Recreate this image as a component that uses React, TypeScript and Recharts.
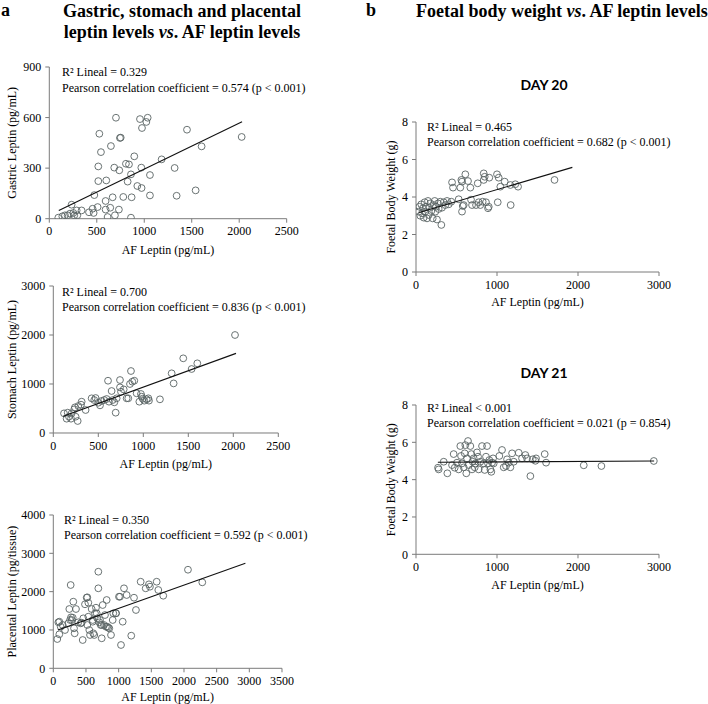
import React from 'react';
import { ScatterChart, Scatter, XAxis, YAxis } from 'recharts';

// AF leptin (pg/mL) vs tissue leptin
const gastricPoints: [number, number][] = [
  [95, 6], [137, 14], [165, 20], [193, 20], [218, 30], [235, 83], [253, 34], [263, 20], [288, 49], [295, 20],
  [340, 49], [418, 38], [456, 59], [467, 34], [474, 140], [509, 69], [516, 223], [516, 310], [527, 504], [544, 395],
  [593, 105], [600, 227], [593, 54], [614, 10], [642, 65], [667, 127], [649, 431], [691, 20], [684, 303], [702, 599],
  [733, 54], [737, 287], [744, 479], [752, 481], [779, 129], [807, 326], [825, 220], [839, 322], [860, 263], [860, 6],
  [867, 127], [895, 370], [927, 194], [955, 591], [972, 182], [976, 538], [969, 303], [1022, 574], [1036, 599],
  [1060, 259], [1060, 138], [1183, 352], [1320, 301], [1341, 136], [1450, 528], [1541, 168], [1604, 429], [2026, 485],
];
const gastricFit: [number, number][] = [[100, 48], [2030, 575]];

const stomachPoints: [number, number][] = [
  [119, 401], [148, 292], [160, 415], [174, 333], [197, 292], [204, 401], [233, 483], [241, 524], [248, 333], [271, 245],
  [278, 551], [308, 578], [315, 639], [359, 469], [426, 708], [455, 673], [470, 714], [500, 618], [519, 564], [537, 653],
  [566, 673], [593, 694], [608, 1067], [619, 639], [648, 857], [660, 673], [678, 626], [693, 415], [704, 708], [741, 1081],
  [741, 931], [752, 842], [782, 890], [815, 708], [833, 708], [852, 1000], [863, 1265], [878, 1047], [900, 1067], [926, 810],
  [956, 639], [974, 796], [982, 741], [993, 700], [1011, 660], [1037, 687], [1056, 708], [1063, 660], [1185, 687],
  [1315, 1218], [1337, 1012], [1444, 1524], [1537, 1306], [1600, 1422], [2019, 2000],
];
const stomachFit: [number, number][] = [[110, 340], [2030, 1625]];

const placentalPoints: [number, number][] = [
  [61, 764], [77, 1200], [92, 887], [113, 1085], [143, 1130], [179, 999], [230, 1174], [245, 1547], [266, 2173], [282, 1260],
  [297, 1320], [306, 1738], [327, 913], [347, 1547], [383, 1200], [419, 1174], [450, 738], [459, 1304], [485, 1670], [511, 1842],
  [520, 1130], [536, 1346], [551, 999], [562, 869], [587, 1547], [603, 1216], [612, 913], [627, 869], [653, 1581], [664, 1435],
  [673, 1304], [689, 2087], [689, 2520], [704, 1200], [725, 1130], [741, 783], [756, 1651], [776, 1130], [791, 1390], [817, 1782],
  [826, 1085], [842, 1059], [857, 1043], [883, 869], [918, 1435], [959, 1435], [1005, 1868], [1020, 1868], [1036, 608], [1062, 1216],
  [1082, 2087], [1123, 1912], [1193, 851], [1235, 1842], [1265, 1521], [1337, 2259], [1414, 2087], [1464, 2191], [1479, 2129],
  [1582, 2259], [1607, 2043], [1683, 1894], [2061, 2572], [2280, 2243],
  [92, 1216], [256, 1260], [271, 1330], [317, 1043], [435, 1190], [520, 1852], [536, 1711], [603, 1260], [638, 1435],
  [715, 1260], [741, 1130], [806, 1085], [909, 1260], [959, 1435],
];
const placentalFit: [number, number][] = [[70, 1000], [2940, 2740]];

// AF leptin (pg/mL) vs foetal body weight (g)
const day20Points: [number, number][] = [
  [33, 3.22], [41, 3.48], [53, 3.0], [65, 3.61], [74, 3.13], [86, 3.4], [95, 2.9], [107, 3.72], [115, 3.22], [123, 3.48],
  [136, 2.86], [148, 3.79], [157, 3.04], [164, 3.43], [177, 3.66], [189, 3.25], [206, 2.86], [218, 3.57], [231, 3.79], [239, 3.22],
  [247, 3.48], [259, 2.8], [272, 3.66], [280, 3.36], [300, 3.75], [313, 2.51], [321, 3.43], [342, 3.72], [362, 3.57], [383, 3.79],
  [404, 3.61], [436, 3.75], [445, 4.78], [457, 4.5], [527, 3.88], [547, 4.5], [560, 4.91], [568, 4.82], [568, 3.22], [577, 3.52],
  [589, 3.57], [609, 5.21], [642, 4.85], [671, 4.5], [679, 3.86], [692, 3.57], [741, 3.57], [762, 4.73], [774, 3.72], [794, 3.57],
  [823, 3.75], [836, 5.26], [836, 4.91], [848, 5.08], [864, 3.72], [889, 3.4], [898, 3.48], [905, 5.03], [1000, 5.21], [1009, 3.72],
  [1021, 5.03], [1041, 4.55], [1095, 4.82], [1165, 4.64], [1169, 3.57], [1226, 4.68], [1260, 4.55], [1710, 4.91],
];
const day20Fit: [number, number][] = [[40, 3.17], [1930, 5.58]];

const day21Points: [number, number][] = [
  [272, 4.64], [280, 4.55], [342, 4.96], [387, 4.34], [445, 4.78], [465, 5.37], [478, 4.64], [506, 4.91], [527, 4.55], [547, 5.8],
  [556, 5.27], [568, 4.87], [589, 4.66], [601, 5.41], [609, 5.85], [621, 4.34], [630, 5.14], [642, 6.07], [651, 4.78], [671, 5.8],
  [683, 5.37], [692, 4.55], [700, 4.96], [712, 5.14], [725, 4.66], [733, 4.87], [753, 5.46], [766, 5.23], [774, 4.55], [794, 4.96],
  [815, 5.8], [836, 4.87], [848, 4.52], [864, 5.23], [877, 5.8], [889, 4.87], [905, 5.05], [918, 4.55], [930, 4.42], [939, 4.91],
  [951, 5.14], [959, 4.87], [1029, 5.27], [1062, 5.59], [1083, 4.66], [1111, 4.73], [1124, 5.09], [1145, 4.91], [1165, 4.66],
  [1186, 5.41], [1207, 4.96], [1268, 5.44], [1309, 5.14], [1350, 5.32], [1371, 5.14], [1412, 4.19], [1441, 5.09], [1474, 5.01],
  [1482, 5.14], [1589, 5.37], [1606, 4.91], [2071, 4.77], [2289, 4.73], [2936, 5.0],
];
const day21Fit: [number, number][] = [[270, 4.93], [2940, 5.0]];

const ticks2500 = [0, 500, 1000, 1500, 2000, 2500];
const ticks3500 = [0, 500, 1000, 1500, 2000, 2500, 3000, 3500];
const ticks3000 = [0, 1000, 2000, 3000];
const gastricTicks = [0, 300, 600, 900];
const stomachTicks = [0, 1000, 2000, 3000];
const placentalTicks = [0, 1000, 2000, 3000, 4000];
const weightTicks = [0, 2, 4, 6, 8];

const SERIF = '"Liberation Serif", "Times New Roman", serif';
const AXIS = '#7a7a7a';

const toXY = (pts: [number, number][]) => pts.map(([x, y]) => ({ x, y }));

const ring = (props: any) => (
  <circle cx={props.cx} cy={props.cy} r={3.4} fill="none" stroke="#5a6464" strokeWidth={0.9} />
);

type PanelProps = {
  chartLeft: number;
  plotLeft: number;
  plotTop: number;
  plotW: number;
  plotH: number;
  xMax: number;
  xTicks: number[];
  yMax: number;
  yTicks: number[];
  points: [number, number][];
  fit: [number, number][];
  yLabel: string;
  yLabelX: number;
  xH: number;
};

function Panel(p: PanelProps) {
  const yW = p.plotLeft - p.chartLeft;
  const top = 10;
  const right = 20;
  const pad = 5; // room under the axis title for descenders
  return (
    <div style={{ position: 'absolute', left: p.chartLeft, top: p.plotTop - top }}>
      <ScatterChart
        width={yW + p.plotW + right}
        height={top + p.plotH + p.xH + pad}
        margin={{ top, right, left: 0, bottom: 0 }}
      >
        <XAxis
          type="number"
          dataKey="x"
          domain={[0, p.xMax]}
          ticks={p.xTicks}
          allowDataOverflow
          height={p.xH + pad}
          stroke={AXIS}
          tickSize={4}
          tickMargin={4}
          tick={{ fontSize: 12, fill: '#000', fontFamily: SERIF }}
          label={{
            value: 'AF Leptin (pg/mL)',
            position: 'insideBottom',
            offset: pad,
            style: { fontSize: 12, fill: '#000', fontFamily: SERIF },
          }}
        />
        <YAxis
          type="number"
          dataKey="y"
          domain={[0, p.yMax]}
          ticks={p.yTicks}
          allowDataOverflow
          width={yW}
          stroke={AXIS}
          tickSize={4}
          tickMargin={4}
          tick={{ fontSize: 12, fill: '#000', fontFamily: SERIF }}
          label={{
            value: p.yLabel,
            angle: -90,
            position: 'insideLeft',
            offset: p.yLabelX - p.chartLeft,
            style: { fontSize: 12, fill: '#000', fontFamily: SERIF, textAnchor: 'middle' },
          }}
        />
        <Scatter data={toXY(p.points)} shape={ring} isAnimationActive={false} />
        <Scatter
          data={toXY(p.fit)}
          line={{ stroke: '#111', strokeWidth: 1.1 }}
          shape={() => <g />}
          isAnimationActive={false}
        />
      </ScatterChart>
    </div>
  );
}

export default function App() {
  const t = { fontFamily: SERIF, fontSize: 12, fill: '#000' };
  const h = { fontFamily: SERIF, fontSize: 18, fontWeight: 700, fill: '#000' };
  return (
    <div style={{ position: 'absolute', left: 0, top: 0, width: 708, height: 704, background: '#fff', overflow: 'hidden' }}>
      <Panel chartLeft={0} plotLeft={49.3} plotTop={66.7} plotW={237.4} plotH={151.7} xMax={2500} xTicks={ticks2500}
        yMax={900} yTicks={gastricTicks} points={gastricPoints} fit={gastricFit} yLabel="Gastric Leptin (pg/mL)" yLabelX={12} xH={35} />
      <Panel chartLeft={0} plotLeft={53.3} plotTop={285.7} plotW={225} plotH={147} xMax={2500} xTicks={ticks2500}
        yMax={3000} yTicks={stomachTicks} points={stomachPoints} fit={stomachFit} yLabel="Stomach Leptin (pg/mL)" yLabelX={12} xH={35} />
      <Panel chartLeft={0} plotLeft={53.3} plotTop={515} plotW={228.7} plotH={153.3} xMax={3500} xTicks={ticks3500}
        yMax={4000} yTicks={placentalTicks} points={placentalPoints} fit={placentalFit} yLabel="Placental Leptin (pg/tissue)" yLabelX={12} xH={33} />
      <Panel chartLeft={376} plotLeft={416} plotTop={122} plotW={243} plotH={150} xMax={3000} xTicks={ticks3000}
        yMax={8} yTicks={weightTicks} points={day20Points} fit={day20Fit} yLabel="Foetal Body Weight (g)" yLabelX={391} xH={34} />
      <Panel chartLeft={376} plotLeft={416} plotTop={405} plotW={243} plotH={149.3} xMax={3000} xTicks={ticks3000}
        yMax={8} yTicks={weightTicks} points={day21Points} fit={day21Fit} yLabel="Foetal Body Weight (g)" yLabelX={391} xH={35} />

      <svg width={708} height={704} style={{ position: 'absolute', left: 0, top: 0, pointerEvents: 'none' }}>
        <text x={1} y={16} {...h}>a</text>
        <text x={182} y={17} textAnchor="middle" {...h}>Gastric, stomach and placental</text>
        <text x={182} y={38} textAnchor="middle" {...h}>
          leptin levels <tspan fontStyle="italic">vs</tspan>. AF leptin levels
        </text>
        <text x={366} y={16} {...h}>b</text>
        <text x={416} y={17} {...h}>
          Foetal body weight <tspan fontStyle="italic">vs</tspan>. AF leptin levels
        </text>
        <text x={544} y={90} textAnchor="middle" fontFamily="Lato, 'Liberation Sans', sans-serif" fontWeight={700} fontSize={14}>DAY 20</text>
        <text x={544} y={378} textAnchor="middle" fontFamily="Lato, 'Liberation Sans', sans-serif" fontWeight={700} fontSize={14}>DAY 21</text>

        <text x={62} y={76} {...t}>R² Lineal = 0.329</text>
        <text x={62} y={92} {...t}>Pearson correlation coefficient = 0.574 (p &lt; 0.001)</text>
        <text x={62} y={296} {...t}>R² Lineal = 0.700</text>
        <text x={62} y={311} {...t}>Pearson correlation coefficient = 0.836 (p &lt; 0.001)</text>
        <text x={64} y={524} {...t}>R² Lineal = 0.350</text>
        <text x={64} y={539} {...t}>Pearson correlation coefficient = 0.592 (p &lt; 0.001)</text>
        <text x={427} y={131} {...t}>R² Lineal = 0.465</text>
        <text x={427} y={146} {...t}>Pearson correlation coefficient = 0.682 (p &lt; 0.001)</text>
        <text x={427} y={412} {...t}>R² Lineal &lt; 0.001</text>
        <text x={427} y={427} {...t}>Pearson correlation coefficient = 0.021 (p = 0.854)</text>
      </svg>
    </div>
  );
}
